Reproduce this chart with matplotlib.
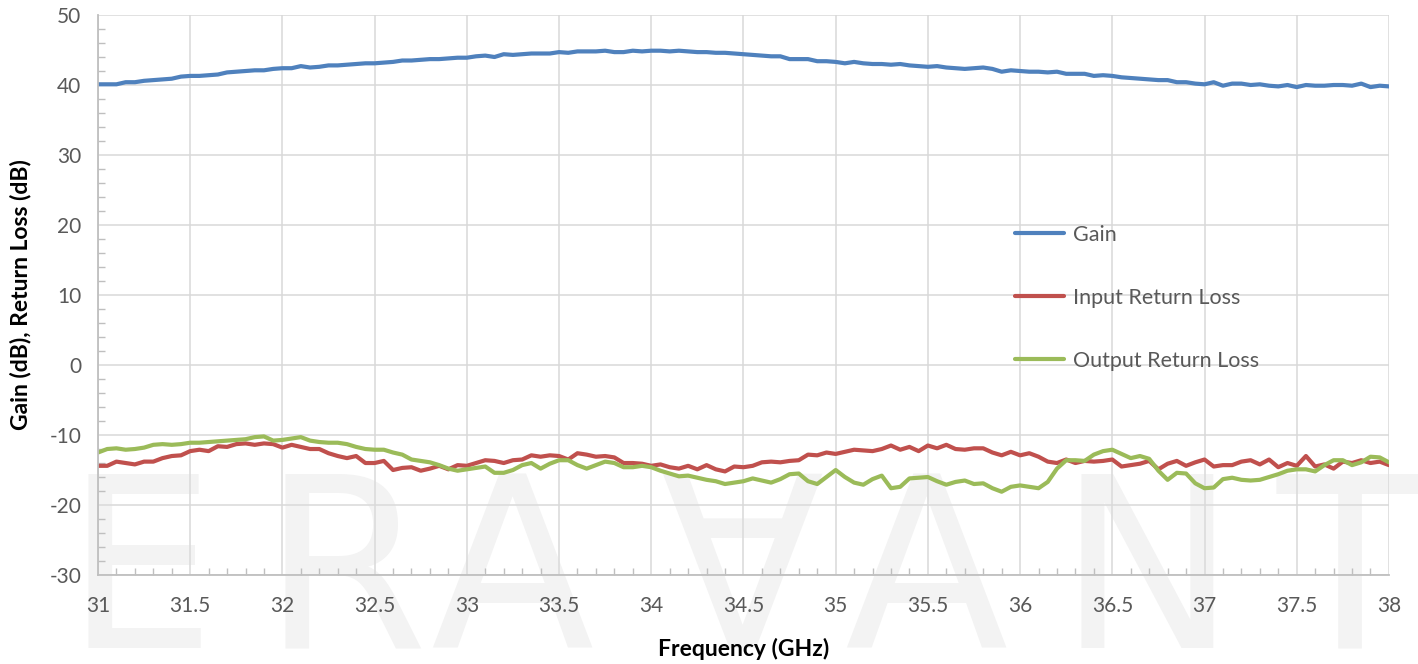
import numpy as np
import matplotlib
matplotlib.use("Agg")
import matplotlib.pyplot as plt
from matplotlib.ticker import MultipleLocator

plt.rcParams['font.family'] = ['Lato', 'DejaVu Sans']
plt.rcParams['axes.unicode_minus'] = False

# frequency grid (GHz), one point every 0.05 GHz
freq = np.round(np.arange(31.0, 38.0001, 0.05), 2)

gain = [
    40.1, 40.1, 40.1, 40.4, 40.4, 40.6, 40.7, 40.8, 40.9, 41.2,
    41.3, 41.3, 41.4, 41.5, 41.8, 41.9, 42.0, 42.1, 42.1, 42.3,
    42.4, 42.4, 42.7, 42.5, 42.6, 42.8, 42.8, 42.9, 43.0, 43.1,
    43.1, 43.2, 43.3, 43.5, 43.5, 43.6, 43.7, 43.7, 43.8, 43.9,
    43.9, 44.1, 44.2, 44.0, 44.4, 44.3, 44.4, 44.5, 44.5, 44.5,
    44.7, 44.6, 44.8, 44.8, 44.8, 44.9, 44.7, 44.7, 44.9, 44.8,
    44.9, 44.9, 44.8, 44.9, 44.8, 44.7, 44.7, 44.6, 44.6, 44.5,
    44.4, 44.3, 44.2, 44.1, 44.1, 43.7, 43.7, 43.7, 43.4, 43.4,
    43.3, 43.1, 43.3, 43.1, 43.0, 43.0, 42.9, 43.0, 42.8, 42.7,
    42.6, 42.7, 42.5, 42.4, 42.3, 42.4, 42.5, 42.3, 41.9, 42.1,
    42.0, 41.9, 41.9, 41.8, 41.9, 41.6, 41.6, 41.6, 41.3, 41.4,
    41.3, 41.1, 41.0, 40.9, 40.8, 40.7, 40.7, 40.4, 40.4, 40.2,
    40.1, 40.4, 39.9, 40.2, 40.2, 40.0, 40.1, 39.9, 39.8, 40.0,
    39.7, 40.0, 39.9, 39.9, 40.0, 40.0, 39.9, 40.2, 39.7, 39.9,
    39.8,
]

input_rl = [
    -14.4, -14.4, -13.8, -14.0, -14.2, -13.8, -13.8, -13.3, -13.0, -12.9,
    -12.3, -12.1, -12.3, -11.6, -11.7, -11.3, -11.2, -11.4, -11.2, -11.3,
    -11.8, -11.4, -11.7, -12.0, -12.0, -12.6, -13.0, -13.3, -13.0, -14.0,
    -14.0, -13.7, -15.0, -14.7, -14.6, -15.1, -14.8, -14.4, -14.9, -14.3,
    -14.4, -14.0, -13.6, -13.7, -14.0, -13.6, -13.5, -12.9, -13.1, -12.9,
    -13.0, -13.5, -12.6, -12.8, -13.1, -13.0, -13.2, -14.0, -14.0, -14.1,
    -14.4, -14.2, -14.6, -14.8, -14.4, -14.9, -14.3, -14.9, -15.2, -14.5,
    -14.6, -14.4, -13.9, -13.8, -13.9, -13.7, -13.6, -12.8, -12.9, -12.5,
    -12.7, -12.4, -12.1, -12.2, -12.3, -12.0, -11.5, -12.1, -11.7, -12.3,
    -11.5, -11.9, -11.4, -12.0, -12.1, -11.9, -11.9, -12.5, -12.9, -12.4,
    -12.9, -12.6, -13.1, -13.8, -14.0, -13.5, -14.0, -13.7, -13.8, -13.7,
    -13.5, -14.5, -14.3, -14.1, -13.7, -14.9, -14.1, -13.7, -14.4, -13.9,
    -13.5, -14.5, -14.3, -14.3, -13.8, -13.6, -14.2, -13.5, -14.6, -14.0,
    -14.4, -13.0, -14.5, -14.2, -14.8, -13.8, -14.0, -13.6, -14.0, -13.8,
    -14.3,
]

output_rl = [
    -12.5, -12.0, -11.9, -12.1, -12.0, -11.8, -11.4, -11.3, -11.4, -11.3,
    -11.1, -11.1, -11.0, -10.9, -10.8, -10.7, -10.6, -10.3, -10.2, -10.8,
    -10.7, -10.5, -10.3, -10.8, -11.0, -11.1, -11.1, -11.3, -11.7, -12.0,
    -12.1, -12.1, -12.5, -12.8, -13.5, -13.7, -13.9, -14.3, -14.8, -15.1,
    -14.9, -14.7, -14.5, -15.4, -15.4, -15.0, -14.3, -14.0, -14.8, -14.1,
    -13.6, -13.6, -14.3, -14.8, -14.3, -13.8, -14.0, -14.6, -14.6, -14.4,
    -14.6, -15.1, -15.5, -15.9, -15.8, -16.1, -16.4, -16.6, -17.0, -16.8,
    -16.6, -16.2, -16.5, -16.8, -16.3, -15.6, -15.5, -16.6, -17.0, -16.0,
    -15.0, -16.0, -16.8, -17.1, -16.3, -15.8, -17.6, -17.4, -16.2, -16.1,
    -16.0, -16.6, -17.1, -16.7, -16.5, -17.0, -16.9, -17.6, -18.1, -17.4,
    -17.2, -17.4, -17.6, -16.7, -14.8, -13.6, -13.6, -13.7, -12.8, -12.3,
    -12.1, -12.7, -13.3, -13.0, -13.4, -15.1, -16.4, -15.4, -15.5, -16.9,
    -17.6, -17.5, -16.3, -16.1, -16.4, -16.5, -16.4, -16.0, -15.6, -15.1,
    -14.9, -14.9, -15.2, -14.3, -13.6, -13.6, -14.3, -13.9, -13.1, -13.2,
    -13.9,
]

series_names = ['Gain', 'Input Return Loss', 'Output Return Loss']
series_colors = ['#4F81BD', '#C0504D', '#9BBB59']

fig = plt.figure(figsize=(14.18, 6.64), dpi=100)
ax = fig.add_axes([0.0691, 0.134, 0.9104, 0.8434])
ax.set_facecolor('none')

# faint company watermark behind the plot
watermark = ['E', 'R', 'A', '\u2200', 'A', 'N', 'T']
mark_x = [140, 345, 512, 742, 926, 1147, 1350]
for letter, px in zip(watermark, mark_x):
    fig.text(px / 1418, 16 / 664, letter, fontsize=172, color='#f3f3f3',
             ha='center', va='baseline', family='DejaVu Sans', zorder=-5)

for values, name, color in zip([gain, input_rl, output_rl], series_names, series_colors):
    ax.plot(freq, values, color=color, lw=3.0, label=name, solid_capstyle='round')

ax.set_xlim(31, 38)
ax.set_ylim(-30, 50)
ax.xaxis.set_major_locator(MultipleLocator(0.5))
ax.xaxis.set_minor_locator(MultipleLocator(0.1))
ax.yaxis.set_major_locator(MultipleLocator(10))
ax.yaxis.set_minor_locator(MultipleLocator(2))
ax.xaxis.set_major_formatter(lambda v, p: f'{v:g}')

ax.grid(True, which='major', color='#d9d9d9', lw=1.1)
ax.set_axisbelow(True)
for side in ['top', 'right']:
    ax.spines[side].set_visible(False)
for side in ['left', 'bottom']:
    ax.spines[side].set_color('#bfbfbf')
    ax.spines[side].set_linewidth(1.3)

ax.tick_params(which='major', length=0, pad=12, labelsize=15, labelcolor='#595959')
ax.tick_params(axis='x', which='major', pad=15)
ax.tick_params(which='minor', direction='in', length=5, width=1, color='#bfbfbf')

ax.set_xlabel('Frequency (GHz)', fontsize=16.5, fontweight='bold', labelpad=16)
ax.set_ylabel('Gain (dB), Return Loss (dB)', fontsize=16.5, fontweight='bold', labelpad=13)

ax.legend(loc='upper left', bbox_to_anchor=(0.695, 0.66), frameon=False,
          fontsize=15.5, labelcolor='#595959', handlelength=2.3, handletextpad=0.4,
          labelspacing=2.0)

fig.savefig('out.png', dpi=100)
